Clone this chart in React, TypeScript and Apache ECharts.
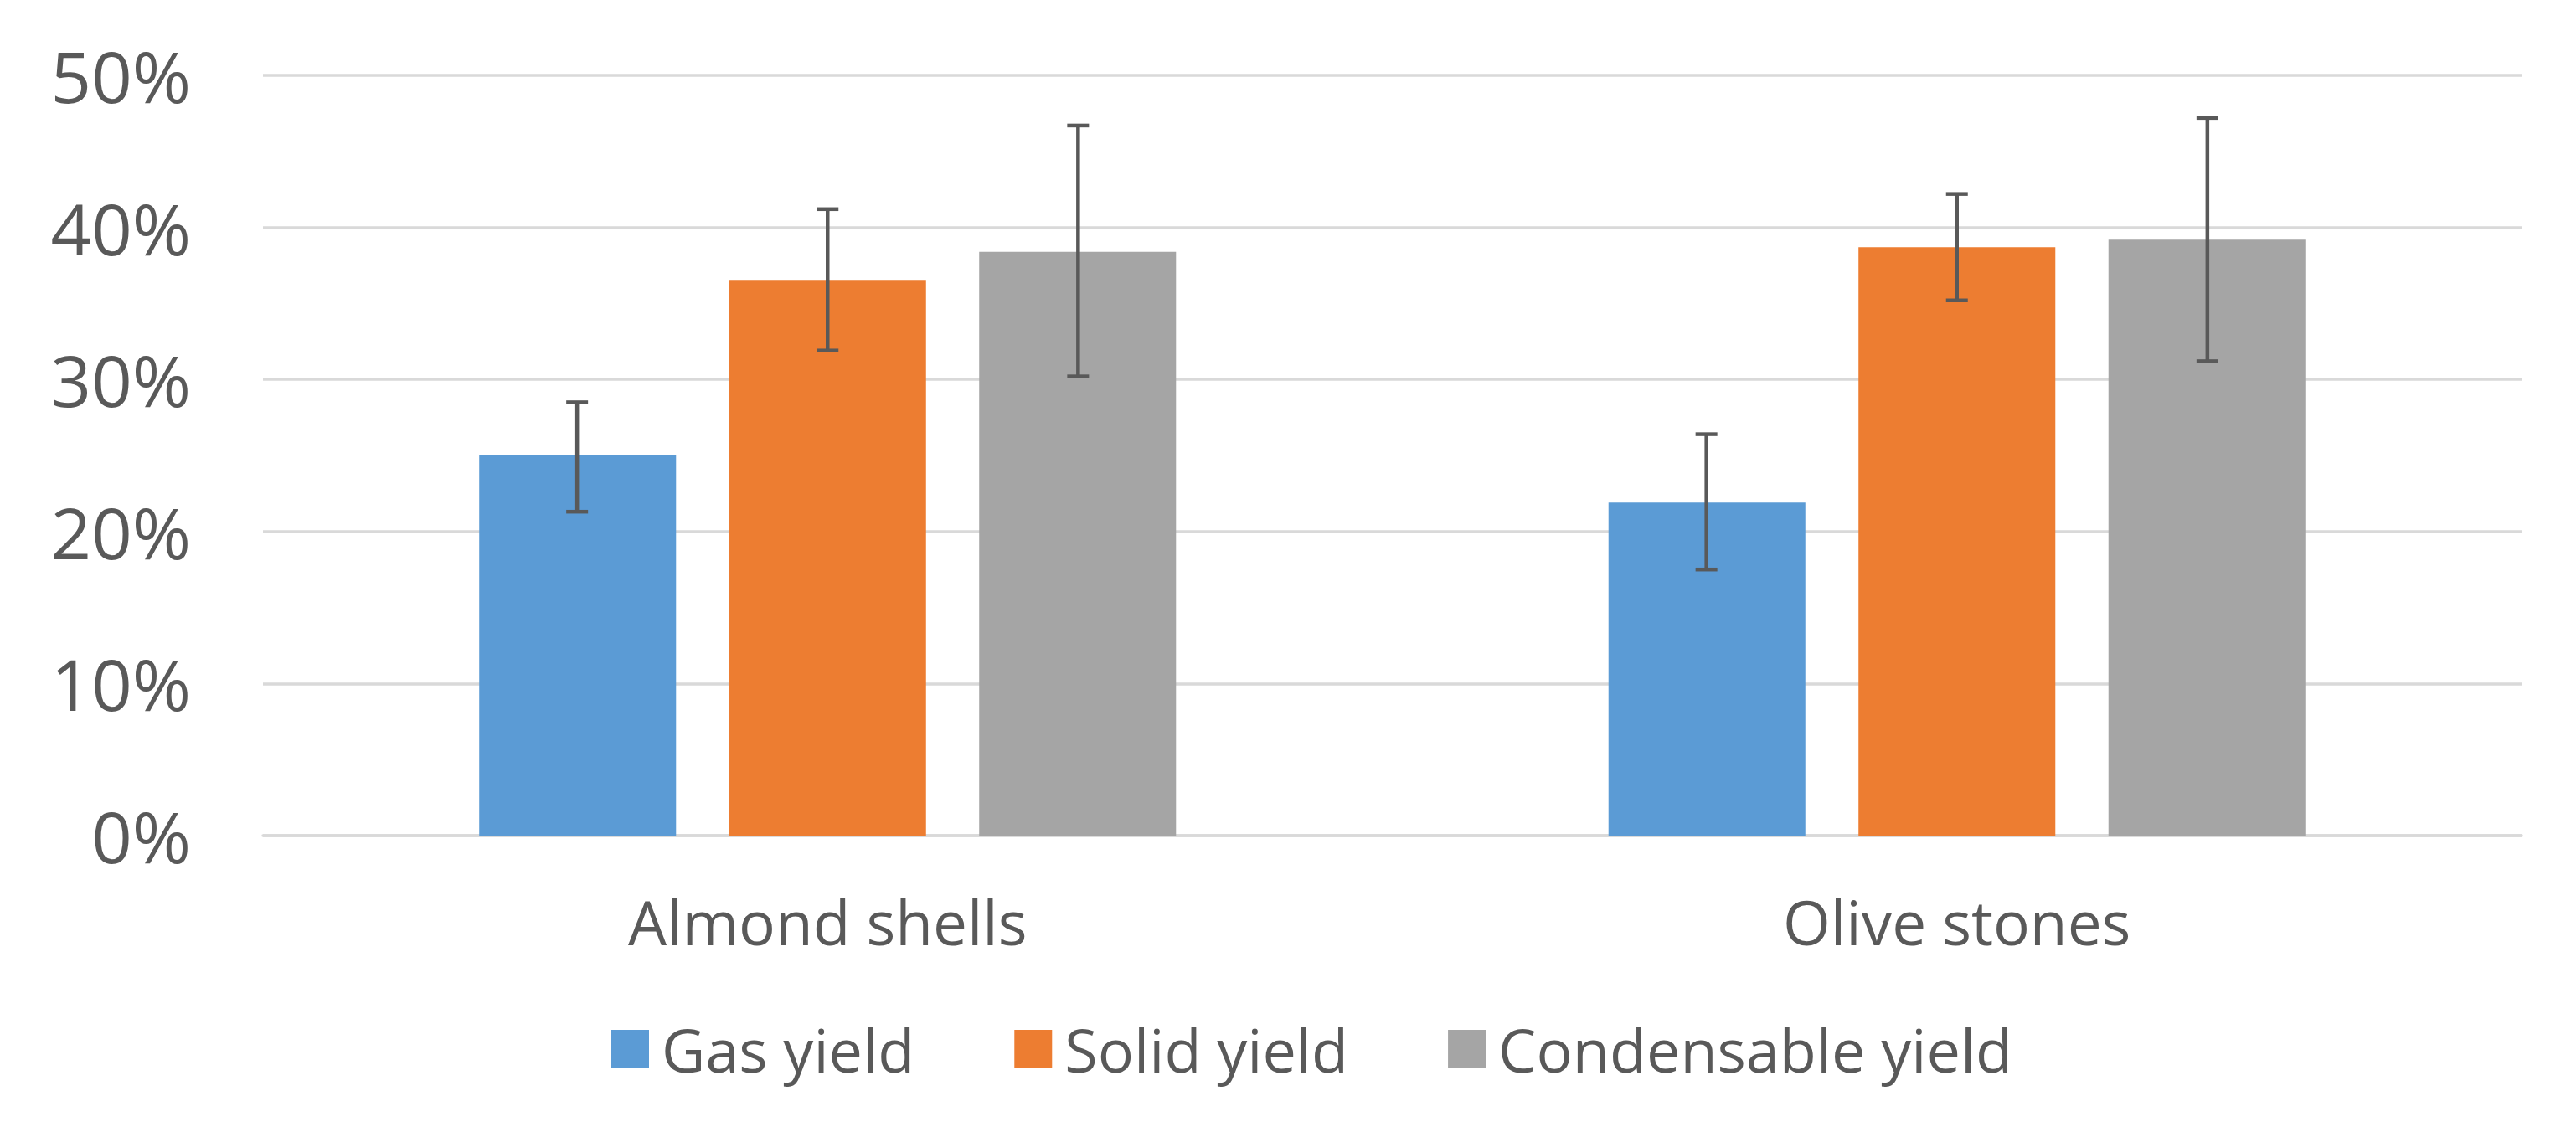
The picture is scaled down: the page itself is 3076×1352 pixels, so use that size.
import React, { useEffect, useRef } from "react";
import * as echarts from "echarts";

const categories = ["Almond shells", "Olive stones"];
const seriesNames = ["Gas yield", "Solid yield", "Condensable yield"];
const gasYield = [25.0, 21.9];
const solidYield = [36.5, 38.7];
const condensableYield = [38.4, 39.2];
const gasErrLow = [21.3, 17.5];
const gasErrHigh = [28.5, 26.4];
const solidErrLow = [31.9, 35.2];
const solidErrHigh = [41.2, 42.2];
const condErrLow = [30.2, 31.2];
const condErrHigh = [46.7, 47.2];
const yTicks = [0, 10, 20, 30, 40, 50];

const colors = ["#5B9BD5", "#ED7D31", "#A5A5A5"];
const TEXT = "#595959";
const FONT = "Open Sans";

export default function App() {
  const ref = useRef<HTMLDivElement>(null);
  useEffect(() => {
    if (!ref.current) return;
    const chart = echarts.init(ref.current, null, { renderer: "svg" });
    const values = [gasYield, solidYield, condensableYield];
    const lows = [gasErrLow, solidErrLow, condErrLow];
    const highs = [gasErrHigh, solidErrHigh, condErrHigh];
    const barFrac = 0.1743;
    const stepFrac = 0.2218;

    const barSeries = seriesNames.map((name, i) => ({
      name,
      type: "bar",
      data: values[i],
      barWidth: barFrac * 100 + "%",
      barGap: "27%",
      itemStyle: { color: colors[i] },
      z: 2,
    }));

    const errSeries = seriesNames.map((name, i) => ({
      name: name + " error",
      type: "custom",
      coordinateSystem: "cartesian2d",
      data: categories.map((_, c) => [c, lows[i][c], highs[i][c]]),
      encode: { x: 0, y: [1, 2] },
      z: 10,
      silent: true,
      renderItem: (params: any, api: any) => {
        const c = api.value(0);
        const lo = api.coord([c, api.value(1)]);
        const hi = api.coord([c, api.value(2)]);
        const band = api.size([1, 0])[0];
        const x = lo[0] + (i - 1) * band * stepFrac;
        const half = 13;
        const style = { stroke: TEXT, lineWidth: 4.5 };
        return {
          type: "group",
          children: [
            { type: "line", shape: { x1: x, y1: lo[1], x2: x, y2: hi[1] }, style },
            { type: "line", shape: { x1: x - half, y1: hi[1], x2: x + half, y2: hi[1] }, style },
            { type: "line", shape: { x1: x - half, y1: lo[1], x2: x + half, y2: lo[1] }, style },
          ],
        };
      },
    }));

    chart.setOption({
      animation: false,
      backgroundColor: "#ffffff",
      grid: { left: 314, right: 65, top: 90, bottom: 354, containLabel: false },
      legend: {
        data: seriesNames,
        left: 725,
        top: 1212,
        itemWidth: 45,
        itemHeight: 46,
        itemGap: 119,
        icon: "rect",
        textStyle: { color: TEXT, fontFamily: FONT, fontSize: 72, padding: [0, 0, 0, 10] },
      },
      xAxis: {
        type: "category",
        data: categories,
        axisLine: { show: true, lineStyle: { color: "#D9D9D9", width: 3.5 } },
        axisTick: { show: false },
        axisLabel: { color: TEXT, fontFamily: FONT, fontSize: 73, margin: 66 },
      },
      yAxis: {
        type: "value",
        min: yTicks[0],
        max: yTicks[yTicks.length - 1],
        interval: 10,
        axisLine: { show: false },
        axisTick: { show: false },
        splitLine: { lineStyle: { color: "#D9D9D9", width: 3.5 } },
        axisLabel: { color: TEXT, fontFamily: FONT, fontSize: 85, margin: 86, formatter: "{value}%" },
      },
      series: [...barSeries, ...errSeries],
    });
    return () => chart.dispose();
  }, []);
  return (
    <div
      ref={ref}
      style={{ position: "fixed", left: 0, top: 0, width: 3076, height: 1352, background: "#fff" }}
    />
  );
}
